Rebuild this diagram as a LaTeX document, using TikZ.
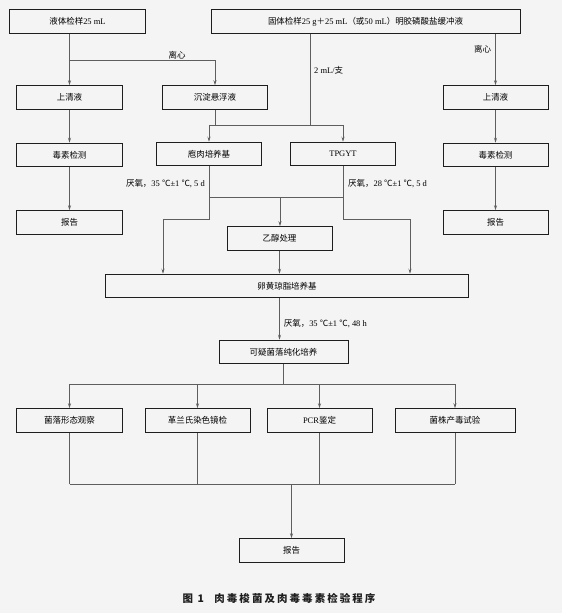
\documentclass[tikz,border=0pt]{standalone}
\usepackage{fontspec}
\setmainfont{Liberation Serif}
\newfontfamily\cjk{Noto Sans CJK SC}
\usetikzlibrary{positioning,arrows.meta,calc}
\definecolor{PaperGray}{HTML}{F4F4F4}
\definecolor{LineGray}{HTML}{5E5E5E}
\definecolor{BoxEdge}{HTML}{1E1E1E}

\begin{document}
\begin{tikzpicture}[
  x=1bp, y=-1bp,
  proc/.style = {draw=BoxEdge, line width=1bp, minimum width=105bp,
                 minimum height=23.5bp, inner sep=0pt, align=center,
                 font=\fontsize{8.5}{10}\selectfont},
  arr/.style  = {-{Stealth[length=5bp,width=3bp]}, LineGray, line width=0.7bp},
  wire/.style = {LineGray, line width=0.7bp},
  note/.style = {font=\fontsize{8.5}{10}\selectfont, text=black, inner sep=1bp},
  node distance=33bp and 22bp
]
  \fill[PaperGray] (0,0) rectangle (562,613);
  \useasboundingbox (0,0) rectangle (562,613);

  % samples
  \node[proc, minimum width=135bp] (liq) at (77.5,21.5) {{\cjk 液体检样}25 mL};
  \node[proc, minimum width=309bp] (solid) at (365.5,21.5)
    {{\cjk 固体检样}25 g{\cjk ＋}25 mL{\cjk （或}50 mL{\cjk ）明胶磷酸盐缓冲液}};

  \node[proc] (sup1) at (69.5,97.5) {\cjk 上清液};
  \node[proc] (sed) at (215,97.5) {\cjk 沉淀悬浮液};
  \node[proc] (sup2) at (495.5,97.5) {\cjk 上清液};
  \node[proc, below=of sup1] (tox1) {\cjk 毒素检测};
  \node[proc, below=43bp of tox1] (rep1) {\cjk 报告};
  \node[proc, below=of sup2] (tox2) {\cjk 毒素检测};
  \node[proc, below=43bp of tox2] (rep2) {\cjk 报告};

  % enrichment
  \node[proc] (cook) at (209,154) {\cjk 庖肉培养基};
  \node[proc] (tpgyt) at (343,154) {TPGYT};
  \node[proc] (eth) at (279.5,238.5) {\cjk 乙醇处理};
  \node[proc, minimum width=362bp] (egg) at (287,286) {\cjk 卵黄琼脂培养基};
  \node[proc, minimum width=129bp] (pure) at (283.5,352) {\cjk 可疑菌落纯化培养};

  % identification
  \node[proc] (morph) at (69.5,420.5) {\cjk 菌落形态观察};
  \node[proc, right=of morph] (gram) {\cjk 革兰氏染色镜检};
  \node[proc, right=16bp of gram] (pcr) {PCR{\cjk 鉴定}};
  \node[proc, minimum width=120bp, right=of pcr] (strain) {\cjk 菌株产毒试验};
  \node[proc] (rep3) at (291.5,550.5) {\cjk 报告};

  \node[font=\cjk\bfseries\fontsize{10.5}{12}\selectfont\addfontfeature{LetterSpace=20},
        text=BoxEdge] (cap) at (279,598) {图 1\quad 肉毒梭菌及肉毒毒素检验程序};

  % liquid sample
  \coordinate (spin) at (69.5,60);
  \draw[arr] (liq.south -| sup1) -- (sup1);
  \draw[arr] (spin) -| (sed);
  \node[note, above] at ($(spin)!0.74!(spin -| sed)$) {\cjk 离心};
  \draw[arr] (sup1) -- (tox1);
  \draw[arr] (tox1) -- (rep1);

  % solid sample
  \coordinate (mix) at (310,125);
  \draw[wire] (solid.south -| mix) -- (mix);
  \node[note, anchor=west] at (313,70) {2 mL/{\cjk 支}};
  \draw[wire] (sed) -- (sed |- mix);
  \draw[wire] (cook |- mix) -- (tpgyt |- mix);
  \draw[arr] (cook |- mix) -- (cook);
  \draw[arr] (tpgyt |- mix) -- (tpgyt);
  \draw[arr] (solid.south -| sup2) -- (sup2)
    node[note, pos=0.3, left, xshift=-3bp] {\cjk 离心};
  \draw[arr] (sup2) -- (tox2);
  \draw[arr] (tox2) -- (rep2);

  % culture paths
  \coordinate (join) at (280,197);
  \coordinate (lbend) at (163,219);
  \coordinate (rbend) at (410,219);
  \draw[wire] (cook) -- (cook |- lbend) -- (lbend);
  \draw[arr] (lbend) -- (lbend |- egg.north);
  \draw[wire] (tpgyt) -- (tpgyt |- rbend) -- (rbend);
  \draw[arr] (rbend) -- (rbend |- egg.north);
  \draw[wire] (cook |- join) -- (tpgyt |- join);
  \draw[arr] (join) -- (join |- eth.north);
  \draw[arr] (eth) -- (eth |- egg.north);
  \node[note, anchor=east] at ($(cook.south)+(-3,17)$)
    {{\cjk 厌氧，}35 {\cjk ℃}±1 {\cjk ℃}, 5 d};
  \node[note, anchor=west] at ($(tpgyt.south)+(4,17)$)
    {{\cjk 厌氧，}28 {\cjk ℃}±1 {\cjk ℃}, 5 d};

  \draw[arr] (egg.south -| eth) -- (eth |- pure.north)
    node[note, pos=0.6, right, xshift=3bp] {{\cjk 厌氧，}35 {\cjk ℃}±1 {\cjk ℃}, 48 h};

  % fan out and in
  \coordinate (fan) at (283.5,384);
  \coordinate (gather) at (291.5,484);
  \draw[wire] (pure) -- (pure |- fan);
  \draw[wire] (morph |- fan) -- (strain |- fan);
  \draw[wire] (morph |- gather) -- (strain |- gather);
  \foreach \t in {morph,gram,pcr,strain} {
    \draw[arr] (\t |- fan) -- (\t);
    \draw[wire] (\t) -- (\t |- gather);
  }
  \draw[arr] (gather) -- (rep3);
\end{tikzpicture}
\end{document}
